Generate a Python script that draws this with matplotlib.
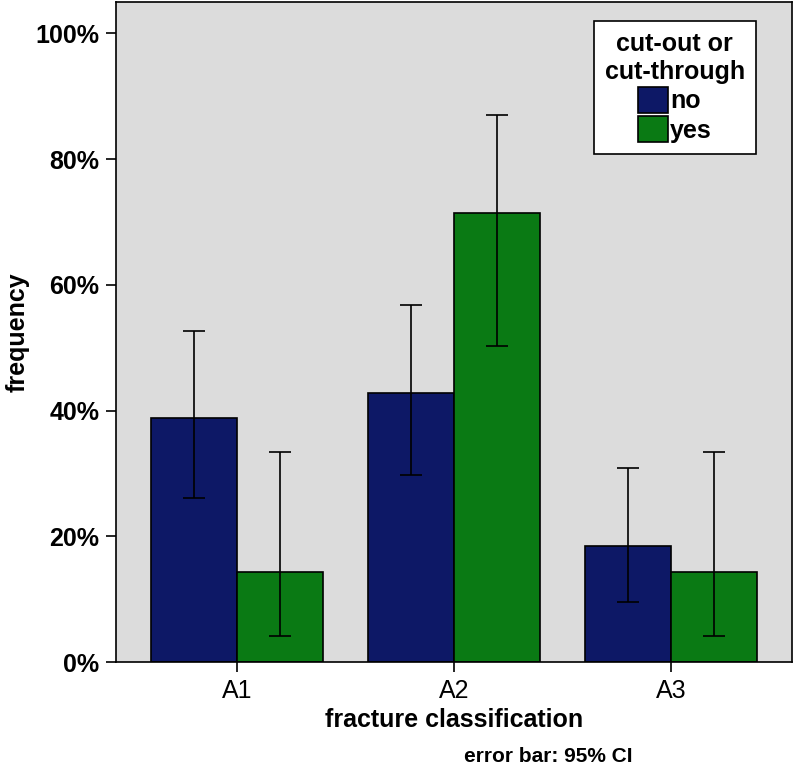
import numpy as np
import matplotlib
matplotlib.use("Agg")
import matplotlib.pyplot as plt
from matplotlib.ticker import FuncFormatter

plt.rcParams['font.family'] = ['Liberation Sans', 'DejaVu Sans']

# -----------------------------
# Data (percent)
# -----------------------------
categories = ["A1", "A2", "A3"]
series_names = ["no", "yes"]
freq_no = [38.8, 42.8, 18.4]
freq_yes = [14.3, 71.4, 14.3]
ci_no_low = [26.1, 29.8, 9.5]
ci_no_high = [52.7, 56.8, 30.8]
ci_yes_low = [4.2, 50.3, 4.2]
ci_yes_high = [33.4, 87.1, 33.4]

col_no = "#0d1866"
col_yes = "#0a7a14"

fig = plt.figure(figsize=(7.93, 7.67), dpi=100)
ax = fig.add_axes([116 / 793, 1 - 662 / 767, 676 / 793, 660 / 767])
ax.set_facecolor("#dcdcdc")

x = np.arange(len(categories))
w = 0.395

def draw_series(offset, vals, lo, hi, color, label):
    vals = np.array(vals)
    err = [vals - np.array(lo), np.array(hi) - vals]
    ax.bar(x + offset, vals, width=w, color=color, edgecolor="black",
           linewidth=1.2, label=label, zorder=2)
    ax.errorbar(x + offset, vals, yerr=err, fmt="none", ecolor="black",
                elinewidth=1.2, capsize=8, capthick=1.2, zorder=3)

draw_series(-w / 2, freq_no, ci_no_low, ci_no_high, col_no, series_names[0])
draw_series(w / 2, freq_yes, ci_yes_low, ci_yes_high, col_yes, series_names[1])

ax.set_xlim(-0.558, 2.558)
ax.set_ylim(0, 105)
ax.set_xticks(x)
ax.set_xticklabels(categories, fontsize=18)
ax.set_yticks(np.arange(0, 101, 20))
ax.yaxis.set_major_formatter(FuncFormatter(lambda v, p: f"{v:.0f}%"))
for t in ax.get_yticklabels():
    t.set_fontweight("bold")
    t.set_fontsize(18)
ax.tick_params(axis="both", direction="out", length=7, width=1.2, pad=5)
for s in ax.spines.values():
    s.set_linewidth(1.2)

ax.set_ylabel("frequency", fontsize=18, fontweight="bold")
ax.yaxis.set_label_coords((30 - 116) / 676, 0.5)
ax.set_xlabel("fracture classification", fontsize=18, fontweight="bold", labelpad=4)
fig.text(548 / 793, 1 - 757 / 767, "error bar: 95% CI", fontsize=15,
         fontweight="bold", ha="center", va="center")

leg = ax.legend(loc="upper right", bbox_to_anchor=(0.947, 0.971),
                borderaxespad=0,
                title="cut-out or\ncut-through", fontsize=18,
                title_fontproperties={"weight": "bold", "size": 18},
                frameon=True, fancybox=False, edgecolor="black",
                facecolor="white", framealpha=1,
                handlelength=1.2, handleheight=1.2, handletextpad=0.1,
                labelspacing=0.12, borderpad=0.45)
leg.get_frame().set_linewidth(1.2)
leg.get_title().set_multialignment("center")
for t in leg.get_texts():
    t.set_fontweight("bold")
leg._legend_box.align = "center"

fig.savefig("out.png", dpi=100)
